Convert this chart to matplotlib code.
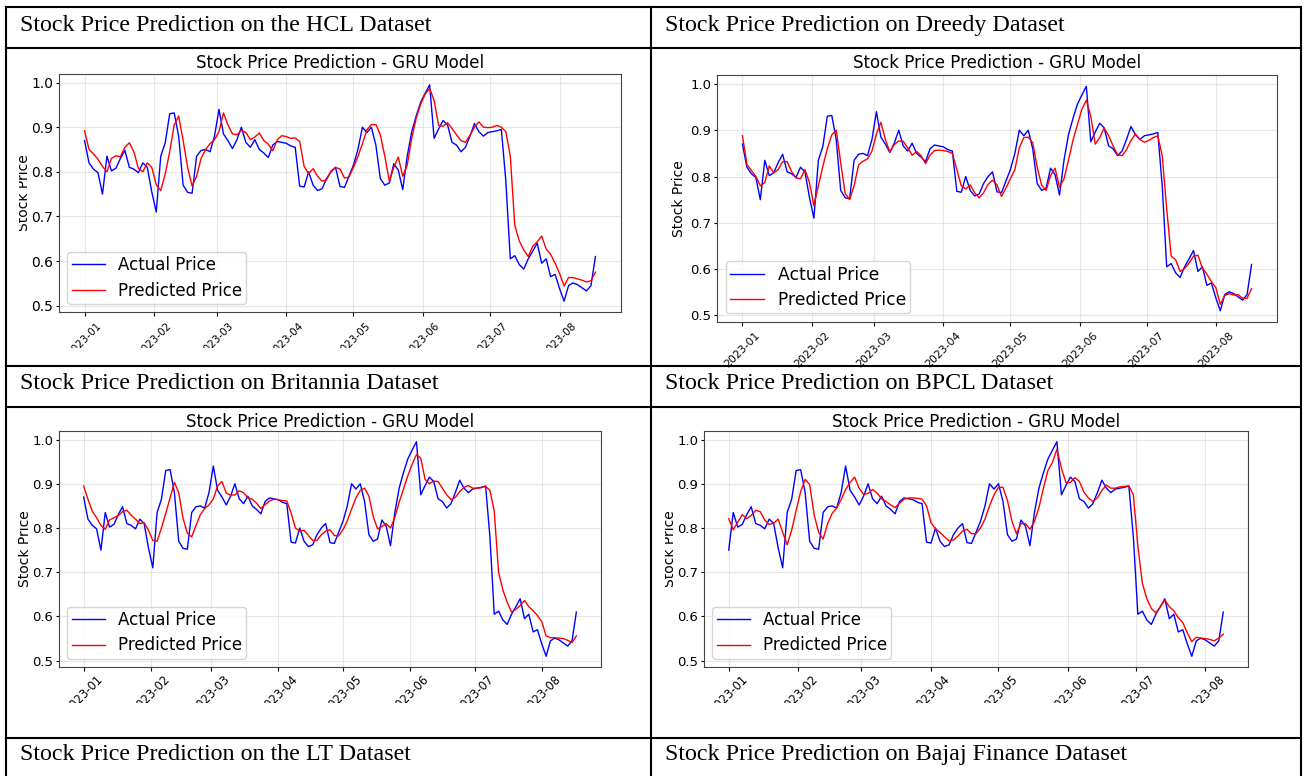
import matplotlib
matplotlib.use('Agg')
import matplotlib.pyplot as plt
import matplotlib.dates as mdates
import pandas as pd
from matplotlib.patches import Rectangle
from matplotlib.lines import Line2D

# normalised closing price, one reading every second day from 2023-01-01
actual_price = [
    0.870, 0.820, 0.806, 0.798, 0.750, 0.835, 0.802, 0.808, 0.830, 0.848,
    0.810, 0.806, 0.798, 0.820, 0.810, 0.755, 0.710, 0.835, 0.865, 0.930,
    0.932, 0.880, 0.770, 0.754, 0.752, 0.835, 0.848, 0.850, 0.845, 0.880,
    0.940, 0.885, 0.870, 0.852, 0.872, 0.900, 0.866, 0.855, 0.872, 0.850,
    0.842, 0.832, 0.860, 0.868, 0.866, 0.864, 0.858, 0.855, 0.768, 0.766,
    0.800, 0.770, 0.758, 0.762, 0.785, 0.800, 0.810, 0.767, 0.765, 0.790,
    0.815, 0.850, 0.900, 0.888, 0.900, 0.860, 0.785, 0.770, 0.775, 0.818,
    0.804, 0.760, 0.835, 0.890, 0.925, 0.956, 0.976, 0.995, 0.875, 0.896,
    0.915, 0.905, 0.866, 0.860, 0.845, 0.855, 0.880, 0.908, 0.890, 0.880,
    0.888, 0.890, 0.892, 0.895, 0.780, 0.605, 0.612, 0.592, 0.582, 0.605,
    0.622, 0.640, 0.595, 0.605, 0.565, 0.570, 0.538, 0.510, 0.545, 0.551,
    0.547, 0.540, 0.533, 0.545, 0.610,
]

hcl_pred = [
    0.892, 0.850, 0.840, 0.828, 0.812, 0.800, 0.830, 0.836, 0.834, 0.855,
    0.865, 0.845, 0.808, 0.800, 0.820, 0.810, 0.771, 0.758, 0.795, 0.845,
    0.905, 0.925, 0.870, 0.810, 0.768, 0.790, 0.830, 0.850, 0.863, 0.872,
    0.890, 0.932, 0.905, 0.885, 0.883, 0.893, 0.888, 0.872, 0.878, 0.887,
    0.870, 0.862, 0.847, 0.872, 0.881, 0.879, 0.875, 0.876, 0.868, 0.812,
    0.796, 0.807, 0.790, 0.779, 0.782, 0.802, 0.810, 0.806, 0.786, 0.788,
    0.810, 0.834, 0.863, 0.894, 0.906, 0.906, 0.883, 0.835, 0.779, 0.810,
    0.833, 0.790, 0.815, 0.875, 0.920, 0.952, 0.974, 0.987, 0.960, 0.904,
    0.902, 0.910, 0.897, 0.883, 0.870, 0.866, 0.882, 0.900, 0.912, 0.900,
    0.899, 0.900, 0.904, 0.900, 0.890, 0.835, 0.680, 0.645, 0.625, 0.610,
    0.633, 0.643, 0.656, 0.627, 0.615, 0.595, 0.572, 0.544, 0.563, 0.563,
    0.560, 0.557, 0.553, 0.556, 0.575,
]

dreedy_pred = [
    0.888, 0.826, 0.813, 0.800, 0.780, 0.787, 0.823, 0.808, 0.815, 0.832,
    0.832, 0.811, 0.797, 0.795, 0.815, 0.787, 0.737, 0.780, 0.822, 0.860,
    0.890, 0.900, 0.830, 0.763, 0.750, 0.780, 0.825, 0.833, 0.838, 0.855,
    0.892, 0.917, 0.880, 0.853, 0.869, 0.877, 0.876, 0.862, 0.846, 0.854,
    0.845, 0.828, 0.846, 0.856, 0.857, 0.856, 0.854, 0.850, 0.815, 0.780,
    0.773, 0.782, 0.765, 0.754, 0.765, 0.783, 0.792, 0.782, 0.757, 0.775,
    0.795, 0.815, 0.862, 0.884, 0.885, 0.873, 0.820, 0.781, 0.770, 0.802,
    0.818, 0.777, 0.795, 0.835, 0.878, 0.912, 0.945, 0.965, 0.930, 0.870,
    0.884, 0.905, 0.888, 0.866, 0.847, 0.845, 0.858, 0.878, 0.892, 0.880,
    0.874, 0.878, 0.884, 0.888, 0.845, 0.730, 0.628, 0.620, 0.595, 0.601,
    0.613, 0.628, 0.630, 0.602, 0.589, 0.573, 0.560, 0.524, 0.543, 0.547,
    0.544, 0.545, 0.537, 0.537, 0.558,
]

britannia_pred = [
    0.895, 0.865, 0.838, 0.823, 0.806, 0.797, 0.818, 0.823, 0.828, 0.837,
    0.840, 0.829, 0.820, 0.810, 0.812, 0.795, 0.772, 0.770, 0.800, 0.833,
    0.868, 0.903, 0.880, 0.822, 0.788, 0.780, 0.806, 0.830, 0.844, 0.852,
    0.866, 0.895, 0.905, 0.879, 0.874, 0.875, 0.884, 0.880, 0.868, 0.865,
    0.856, 0.844, 0.853, 0.861, 0.865, 0.864, 0.862, 0.861, 0.834, 0.800,
    0.793, 0.795, 0.783, 0.772, 0.772, 0.785, 0.793, 0.796, 0.783, 0.782,
    0.796, 0.816, 0.843, 0.868, 0.885, 0.890, 0.872, 0.826, 0.798, 0.803,
    0.810, 0.800, 0.824, 0.858, 0.888, 0.918, 0.944, 0.966, 0.958, 0.910,
    0.900, 0.906, 0.905, 0.890, 0.875, 0.864, 0.869, 0.882, 0.892, 0.896,
    0.890, 0.890, 0.891, 0.894, 0.885, 0.838, 0.700, 0.660, 0.632, 0.610,
    0.616, 0.625, 0.636, 0.622, 0.613, 0.602, 0.588, 0.556, 0.552, 0.552,
    0.551, 0.550, 0.546, 0.541, 0.556,
]

# BPCL series starts four readings later in the same price history
bpcl_actual = actual_price[4:]
bpcl_pred = [
    0.821, 0.796, 0.813, 0.830, 0.821, 0.828, 0.840, 0.837, 0.818, 0.808,
    0.811, 0.820, 0.790, 0.762, 0.795, 0.840, 0.882, 0.910, 0.898, 0.830,
    0.790, 0.775, 0.810, 0.833, 0.845, 0.864, 0.887, 0.903, 0.915, 0.890,
    0.876, 0.878, 0.887, 0.879, 0.866, 0.860, 0.852, 0.846, 0.856, 0.865,
    0.868, 0.868, 0.867, 0.865, 0.850, 0.812, 0.798, 0.790, 0.780, 0.771,
    0.773, 0.782, 0.793, 0.797, 0.787, 0.787, 0.800, 0.820, 0.850, 0.875,
    0.892, 0.892, 0.862, 0.815, 0.787, 0.810, 0.810, 0.797, 0.815, 0.846,
    0.890, 0.930, 0.948, 0.978, 0.935, 0.903, 0.903, 0.914, 0.905, 0.881,
    0.868, 0.860, 0.868, 0.885, 0.897, 0.890, 0.890, 0.893, 0.894, 0.895,
    0.875, 0.760, 0.675, 0.640, 0.618, 0.608, 0.622, 0.637, 0.622, 0.613,
    0.597, 0.586, 0.563, 0.543, 0.553, 0.551, 0.550, 0.548, 0.545, 0.551,
    0.560,
]

headers = [
    'Stock Price Prediction on the HCL Dataset',
    'Stock Price Prediction on Dreedy Dataset',
    'Stock Price Prediction on Britannia Dataset',
    'Stock Price Prediction on BPCL Dataset',
    'Stock Price Prediction on the LT Dataset',
    'Stock Price Prediction on Bajaj Finance Dataset',
]

W, H = 1304, 776
fig = plt.figure(figsize=(W / 100, H / 100), dpi=100)


def box(left, top, right, bottom):
    # pixel box (y measured from the top) -> figure fraction rect
    return [left / W, 1 - bottom / H, (right - left) / W, (bottom - top) / H]


def draw_panel(rect, actual, predicted, tick_fs=9.5, title_pad=4, ylabel_pad=3,
               xsize=8.3, xpad=4, legend_fs=12):
    dates = pd.date_range('2023-01-01', periods=len(actual), freq='2D')
    ax = fig.add_axes(rect)
    ax.plot(dates, actual, color='blue', lw=1.0, label='Actual Price')
    ax.plot(dates, predicted, color='red', lw=1.0, label='Predicted Price')
    ax.set_title('Stock Price Prediction - GRU Model', fontsize=12, pad=title_pad)
    ax.set_ylabel('Stock Price', fontsize=10, labelpad=ylabel_pad)
    ax.xaxis.set_major_locator(mdates.MonthLocator())
    ax.xaxis.set_major_formatter(mdates.DateFormatter('%Y-%m'))
    ax.tick_params(axis='x', labelrotation=45, labelsize=xsize, length=3, pad=xpad)
    ax.tick_params(axis='y', labelsize=tick_fs, length=2.5, pad=1.5)
    ax.grid(True, alpha=0.3)
    for sp in ax.spines.values():
        sp.set_color('#444444')
    ax.legend(loc='lower left', fontsize=legend_fs, labelspacing=0.45, borderpad=0.25)
    return ax


draw_panel(box(59, 74, 621, 312), actual_price, hcl_pred,
           tick_fs=10, title_pad=4, ylabel_pad=0, xsize=7.5, xpad=3)
draw_panel(box(717, 75, 1277, 322), actual_price, dreedy_pred,
           title_pad=5, xsize=7.8, xpad=3, legend_fs=12.3)
draw_panel(box(59, 431, 601, 667), actual_price, britannia_pred,
           title_pad=3, ylabel_pad=0, xsize=8.3, xpad=1.5)
draw_panel(box(704, 431, 1248, 667), bpcl_actual, bpcl_pred,
           title_pad=3, ylabel_pad=0, xsize=8.3, xpad=1.5)

# the pasted plots are cropped: blank out what falls outside them
masks = [
    (7, 49, 19, 365), (7, 348, 650, 365),
    (7, 407, 18, 737), (7, 703, 650, 737),
    (652, 407, 665, 737), (652, 703, 1300, 737),
]
for x0, y0, x1, y1 in masks:
    fig.add_artist(Rectangle((x0 / W, 1 - y1 / H), (x1 - x0) / W, (y1 - y0) / H,
                             transform=fig.transFigure, facecolor='white',
                             edgecolor='none', zorder=5))

# table rules
for y in [7.3, 48.3, 365.7, 406.7, 737.7]:
    fig.add_artist(Line2D([6.3 / W, 1301 / W], [1 - y / H, 1 - y / H],
                          transform=fig.transFigure, color='black', lw=1.5, zorder=6))
for x in [6.3, 650.7, 1301]:
    fig.add_artist(Line2D([x / W, x / W], [1 - 7.3 / H, 0],
                          transform=fig.transFigure, color='black', lw=1.5, zorder=6))

# header cells
header_pos = [(20, 31), (665, 31), (20, 389), (665, 389), (20, 760), (665, 760)]
for text, (x, y) in zip(headers, header_pos):
    fig.text(x / W, 1 - y / H, text, family='Liberation Serif', fontsize=17.3,
             va='baseline', ha='left', zorder=7)

fig.savefig('out.png', dpi=100)
